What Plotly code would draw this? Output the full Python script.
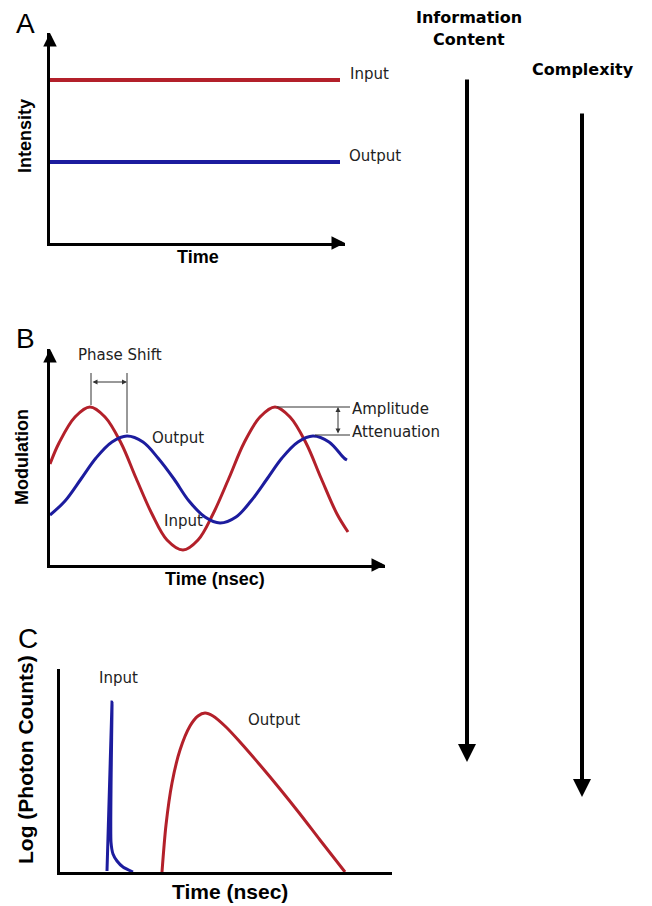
import plotly.graph_objects as go

W, H = 652, 906
RED = "#b3202a"
BLUE = "#1c1c9e"

# ---------------- data (arbitrary units) ----------------
# Panel A: steady-state intensity
a_time = [0, 290]
a_input = [163, 163]
a_output = [81, 81]

# Panel B: frequency-domain modulation
b_time_in = [0, 9, 25, 40, 55, 71, 86, 102, 117, 133, 148, 163, 179, 194, 210,
             225, 240, 256, 271, 287, 298]
b_input = [101, 122, 148, 158, 148, 122, 87, 51, 25, 15, 25, 51, 87, 122, 148,
           158, 148, 122, 87, 51, 33]
b_time_out = [0, 15, 31, 46, 62, 77, 93, 108, 124, 139, 155, 170, 186, 201, 217,
              232, 248, 263, 279, 294, 297]
b_output = [50, 64, 86, 107, 123, 129, 123, 107, 86, 64, 48, 42, 48, 64, 86,
            107, 123, 129, 123, 107, 105]

# Panel C: time-domain decay (log photon counts)
c_time_in = [47, 52, 51, 53, 57, 63, 73]
c_input = [1, 170, 30, 18, 11, 5, 0]
c_time_out = [102, 106, 112, 120, 130, 138, 145, 153, 166, 180, 200, 220, 240, 260, 285]
c_output = [0, 47, 89, 122, 146, 156, 159, 156, 145, 130, 107, 83, 58, 32, 0]

# panel frames in pixels: (x0, x1, ytop, ybottom)
PANELS = {
    "A": (50, 345, 33, 243),
    "B": (50, 385, 349, 565),
    "C": (60, 392, 669, 872),
}


def px(x):
    return x / W


def py(y):
    return (H - y) / H


fig = go.Figure()

# Panel A
fig.add_trace(go.Scatter(x=a_time, y=a_input, mode="lines", line=dict(color=RED, width=4),
                         xaxis="x", yaxis="y", hoverinfo="skip"))
fig.add_trace(go.Scatter(x=a_time, y=a_output, mode="lines", line=dict(color=BLUE, width=4),
                         xaxis="x", yaxis="y", hoverinfo="skip"))
# Panel B
fig.add_trace(go.Scatter(x=b_time_in, y=b_input, mode="lines",
                         line=dict(color=RED, width=3, shape="spline", smoothing=1.0),
                         xaxis="x2", yaxis="y2", hoverinfo="skip"))
fig.add_trace(go.Scatter(x=b_time_out, y=b_output, mode="lines",
                         line=dict(color=BLUE, width=3, shape="spline", smoothing=1.0),
                         xaxis="x2", yaxis="y2", hoverinfo="skip"))
# Panel C
fig.add_trace(go.Scatter(x=c_time_in, y=c_input, mode="lines",
                         line=dict(color=BLUE, width=3, shape="spline", smoothing=0.6),
                         xaxis="x3", yaxis="y3", hoverinfo="skip"))
fig.add_trace(go.Scatter(x=c_time_out, y=c_output, mode="lines",
                         line=dict(color=RED, width=3, shape="spline", smoothing=0.8),
                         xaxis="x3", yaxis="y3", hoverinfo="skip"))


def axis_pair(key):
    x0, x1, yt, yb = PANELS[key]
    ax = dict(domain=[px(x0), px(x1)], range=[0, x1 - x0], showline=True, linecolor="black",
              linewidth=3, showticklabels=False, ticks="", showgrid=False, zeroline=False,
              fixedrange=True)
    ay = dict(domain=[py(yb), py(yt)], range=[0, yb - yt], showline=True, linecolor="black",
              linewidth=3, showticklabels=False, ticks="", showgrid=False, zeroline=False,
              fixedrange=True)
    return ax, ay


axA, ayA = axis_pair("A")
axB, ayB = axis_pair("B")
axC, ayC = axis_pair("C")
axA.update(anchor="y"); ayA.update(anchor="x")
axB.update(anchor="y2"); ayB.update(anchor="x2")
axC.update(anchor="y3"); ayC.update(anchor="x3")

ann = []
LAB = dict(family="DejaVu Sans", size=15, color="#222222")
TIT = dict(family="Liberation Sans", size=18, color="black", weight="bold")


def text(x, y, t, font, xanchor="center", yanchor="middle", angle=0):
    ann.append(dict(x=px(x), y=py(y), xref="paper", yref="paper", text=t, showarrow=False,
                    font=font, xanchor=xanchor, yanchor=yanchor, textangle=angle))


def arrow(xref, yref, x, y, axv, ayv, width, size, side="end", head=2, color="black"):
    ann.append(dict(x=x, y=y, ax=axv, ay=ayv, xref=xref, yref=yref, axref=xref, ayref=yref,
                    text="", showarrow=True, arrowhead=head, startarrowhead=head,
                    arrowsize=size, startarrowsize=size, arrowwidth=width,
                    arrowcolor=color, arrowside=side, standoff=0, startstandoff=0))


# axis arrowheads (panels A & B)
for key, xr, yr in (("A", "x", "y"), ("B", "x2", "y2")):
    x0, x1, yt, yb = PANELS[key]
    arrow(xr, yr, 0, yb - yt, 0, yb - yt - 14, 3, 0.9)
    arrow(xr, yr, x1 - x0, 0, x1 - x0 - 14, 0, 3, 0.9)

# Panel letters
text(25, 23, "A", dict(family="Liberation Sans", size=28, color="black"))
text(25, 338, "B", dict(family="Liberation Sans", size=28, color="black"))
text(28, 638, "C", dict(family="Liberation Sans", size=28, color="black"))

# Axis titles
text(25, 136, "Intensity", TIT, angle=-90)
text(198, 257, "Time", TIT)
text(22, 457, "Modulation", TIT, angle=-90)
text(215, 579, "Time (nsec)", TIT)
text(25, 760, "Log (Photon Counts)", dict(TIT, size=21), angle=-90)
text(230, 891, "Time (nsec)", dict(TIT, size=21))

# Curve labels
text(348, 74, "Input", LAB, xanchor="left")
text(347, 156, "Output", LAB, xanchor="left")
text(120, 355, "Phase Shift", LAB)
text(150, 438, "Output", LAB, xanchor="left")
text(162, 521, "Input", LAB, xanchor="left")
text(350, 409, "Amplitude", LAB, xanchor="left")
text(350, 432, "Attenuation", LAB, xanchor="left")
text(118, 678, "Input", LAB)
text(246, 720, "Output", LAB, xanchor="left")

# Phase shift / amplitude markers (panel B data units)
shapes = []
GR = "#333333"
for xx, ylo in ((41, 160), (77, 132)):
    shapes.append(dict(type="line", xref="x2", yref="y2", x0=xx, x1=xx, y0=ylo, y1=192,
                       line=dict(color=GR, width=1)))
arrow("x2", "y2", 77, 183, 41, 183, 1, 1.0, side="end+start", color=GR)
shapes.append(dict(type="line", xref="x2", yref="y2", x0=227, x1=300, y0=158, y1=158,
                   line=dict(color=GR, width=1)))
shapes.append(dict(type="line", xref="x2", yref="y2", x0=265, x1=300, y0=130, y1=130,
                   line=dict(color=GR, width=1)))
arrow("x2", "y2", 288, 158, 288, 130, 1, 1.0, side="end+start", color=GR)

# Right-hand trend arrows
BOLD = dict(family="DejaVu Sans", size=16, color="black", weight="bold")
text(469, 18, "Information", BOLD)
text(469, 39, "Content", BOLD)
text(583, 70, "Complexity", BOLD)
ann.append(dict(x=px(467), y=py(762), xref="paper", yref="paper", ax=0, ay=-(762 - 78),
                text="", showarrow=True, arrowhead=2, arrowsize=0.9, arrowwidth=4,
                arrowcolor="black", standoff=0))
ann.append(dict(x=px(582), y=py(797), xref="paper", yref="paper", ax=0, ay=-(797 - 112),
                text="", showarrow=True, arrowhead=2, arrowsize=0.9, arrowwidth=4,
                arrowcolor="black", standoff=0))

fig.update_layout(
    width=W, height=H, margin=dict(l=0, r=0, t=0, b=0), autosize=False,
    paper_bgcolor="white", plot_bgcolor="rgba(0,0,0,0)", showlegend=False,
    xaxis=axA, yaxis=ayA, xaxis2=axB, yaxis2=ayB, xaxis3=axC, yaxis3=ayC,
    annotations=ann, shapes=shapes,
)

fig.write_html("out.html", config={"displayModeBar": False})
